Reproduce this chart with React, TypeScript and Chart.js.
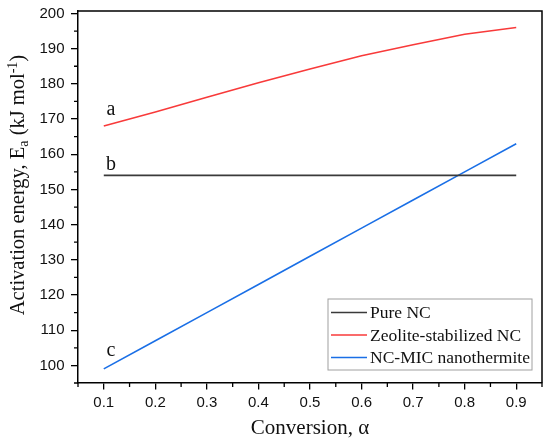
import React, { useEffect, useRef } from "react";
import { Chart, registerables } from "chart.js";

Chart.register(...registerables);

const conversion = [0.1, 0.2, 0.3, 0.4, 0.5, 0.6, 0.7, 0.8, 0.9];
const pureNC = [154, 154, 154, 154, 154, 154, 154, 154, 154];
const zeoliteNC = [168, 172, 176.2, 180.3, 184.2, 188, 191.1, 194.1, 196];
const micNano = [99, 107, 115, 123, 131, 139, 147, 155, 163];

const seriesNames = ["Pure NC", "Zeolite-stabilized NC", "NC-MIC nanothermite"];
const seriesColors = ["#3a3a3a", "#f83a3a", "#1a6fe6"];

const xTicks = [0.1, 0.2, 0.3, 0.4, 0.5, 0.6, 0.7, 0.8, 0.9];
const xMinorTicks = [0.05, 0.15, 0.25, 0.35, 0.45, 0.55, 0.65, 0.75, 0.85, 0.95];
const yTicks = [100, 110, 120, 130, 140, 150, 160, 170, 180, 190, 200];
const yMinorTicks = [95, 105, 115, 125, 135, 145, 155, 165, 175, 185, 195];

const curveLabels = ["a", "b", "c"];
const curveLabelX = [0.114, 0.114, 0.114];
const curveLabelY = [172.5, 156.9, 104.3];

const SERIF = "'Liberation Serif', 'Times New Roman', serif";
const SANS = "'Liberation Sans', Arial, sans-serif";

const decorPlugin = {
  id: "decor",
  afterDraw(chart: any) {
    const ctx = chart.ctx;
    const { left, right, top, bottom } = chart.chartArea;
    const xs = chart.scales.x;
    const ys = chart.scales.y;
    ctx.save();
    // frame top / right
    ctx.strokeStyle = "#000";
    ctx.lineWidth = 1.5;
    ctx.beginPath();
    ctx.moveTo(left, top);
    ctx.lineTo(right, top);
    ctx.lineTo(right, bottom);
    ctx.stroke();
    // minor ticks
    ctx.lineWidth = 1.3;
    ctx.beginPath();
    xMinorTicks.forEach((v) => {
      const px = xs.getPixelForValue(v);
      ctx.moveTo(px, bottom);
      ctx.lineTo(px, bottom + 4);
    });
    yMinorTicks.forEach((v) => {
      const py = ys.getPixelForValue(v);
      ctx.moveTo(left, py);
      ctx.lineTo(left - 4, py);
    });
    ctx.stroke();

    // curve labels
    ctx.fillStyle = "#111";
    ctx.font = `20px ${SERIF}`;
    ctx.textAlign = "center";
    ctx.textBaseline = "middle";
    curveLabels.forEach((t, i) => {
      ctx.fillText(t, xs.getPixelForValue(curveLabelX[i]), ys.getPixelForValue(curveLabelY[i]));
    });

    // x title
    ctx.font = `21px ${SERIF}`;
    ctx.fillText("Conversion, \u03b1", (left + right) / 2, 428);

    // y title with sub/superscript
    ctx.save();
    ctx.translate(17.5, 185);
    ctx.rotate(-Math.PI / 2);
    const big = `20.5px ${SERIF}`;
    const small = `14px ${SERIF}`;
    const parts: [string, string, number][] = [
      ["Activation energy, E", big, 0],
      ["a", small, 4],
      [" (kJ mol", big, 0],
      ["-1", small, -7.5],
      [")", big, 0],
    ];
    let total = 0;
    parts.forEach(([t, f]) => {
      ctx.font = f;
      total += ctx.measureText(t).width;
    });
    let cx = -total / 2;
    ctx.textAlign = "left";
    ctx.textBaseline = "alphabetic";
    parts.forEach(([t, f, dy]) => {
      ctx.font = f;
      ctx.fillText(t, cx, 6.5 + dy);
      cx += ctx.measureText(t).width;
    });
    ctx.restore();

    // legend box
    const bx1 = right - 214;
    const bx2 = right - 10;
    const by1 = bottom - 84;
    const by2 = bottom - 13;
    ctx.fillStyle = "#fff";
    ctx.fillRect(bx1, by1, bx2 - bx1, by2 - by1);
    ctx.strokeStyle = "#a0a0a0";
    ctx.lineWidth = 1;
    ctx.strokeRect(bx1, by1, bx2 - bx1, by2 - by1);
    ctx.font = `17.5px ${SERIF}`;
    ctx.textBaseline = "middle";
    ctx.textAlign = "left";
    seriesNames.forEach((name, i) => {
      const ry = by1 + 13.5 + i * 22.5;
      ctx.strokeStyle = seriesColors[i];
      ctx.lineWidth = 1.5;
      ctx.beginPath();
      ctx.moveTo(bx1 + 3, ry);
      ctx.lineTo(bx1 + 39, ry);
      ctx.stroke();
      ctx.fillStyle = "#111";
      ctx.fillText(name, bx1 + 42, ry + 1);
    });
    ctx.restore();
  },
};

export default function App() {
  const ref = useRef<HTMLCanvasElement | null>(null);
  useEffect(() => {
    document.body.style.margin = "0";
    const series = [pureNC, zeoliteNC, micNano];
    const chart = new Chart(ref.current as HTMLCanvasElement, {
      type: "line",
      data: {
        datasets: series.map((vals, i) => ({
          label: seriesNames[i],
          data: conversion.map((x, j) => ({ x, y: vals[j] })),
          borderColor: seriesColors[i],
          borderWidth: 1.6,
          pointRadius: 0,
          tension: 0,
          fill: false,
        })),
      },
      options: {
        responsive: false,
        animation: false,
        layout: { padding: { left: 0, top: 11, right: 8, bottom: 0 } },
        plugins: {
          legend: { display: false },
          title: { display: false },
          tooltip: { enabled: false },
        },
        scales: {
          x: {
            type: "linear",
            min: 0.05,
            max: 0.95,
            afterFit: (s: any) => {
              s.height = 60;
              s.paddingLeft = 0;
              s.paddingRight = 0;
            },
            afterBuildTicks: (s: any) => {
              s.ticks = xTicks.map((v) => ({ value: v }));
            },
            grid: {
              display: true,
              drawOnChartArea: false,
              drawTicks: true,
              tickLength: 6.5,
              color: "#000",
              lineWidth: 1.3,
            },
            border: { display: true, color: "#000", width: 1.5 },
            ticks: {
              color: "#111",
              font: { family: SANS, size: 15 },
              padding: 4,
              maxRotation: 0,
              callback: (v: any) => Number(v).toFixed(1),
            },
          },
          y: {
            type: "linear",
            min: 95,
            max: 200.7,
            afterFit: (s: any) => {
              s.width = 78;
              s.paddingTop = 0;
              s.paddingBottom = 0;
            },
            afterBuildTicks: (s: any) => {
              s.ticks = yTicks.map((v) => ({ value: v }));
            },
            grid: {
              display: true,
              drawOnChartArea: false,
              drawTicks: true,
              tickLength: 7,
              color: "#000",
              lineWidth: 1.3,
            },
            border: { display: true, color: "#000", width: 1.5 },
            ticks: {
              color: "#111",
              font: { family: SANS, size: 15 },
              padding: 6.5,
              callback: (v: any) => String(v),
            },
          },
        },
      },
      plugins: [decorPlugin],
    });
    return () => chart.destroy();
  }, []);
  return (
    <div style={{ width: 550, height: 443 }}>
      <canvas ref={ref} width={550} height={443} style={{ display: "block" }} />
    </div>
  );
}
